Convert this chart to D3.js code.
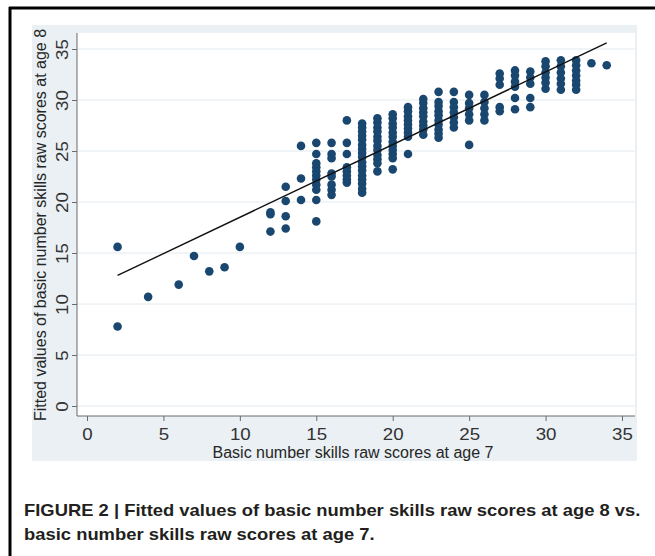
<!DOCTYPE html>
<html>
<head>
<meta charset="utf-8">
<script src="https://cdn.jsdelivr.net/npm/d3@7"></script>
<style>
  body { margin: 0; background: #ffffff; }
  text { font-family: "Liberation Sans", Arial, sans-serif; }
  .grid-line { stroke: #e4eaee; stroke-width: 1; }
  .axis-line { stroke: #6a6a6a; stroke-width: 1; }
  .tick line { stroke: #6a6a6a; }
  .tick text { fill: #333333; font-size: 16px; }
  .axis-title { fill: #262626; font-size: 16px; }
  .caption { fill: #231f20; font-size: 16px; font-weight: bold; }
</style>
</head>
<body>
<div id="wrapper"></div>
<script>

// raw score at age 7 (one entry per column of dots)
const age7Scores = [2, 4, 6, 7, 8, 9, 10, 12, 13, 14, 15, 16, 17, 18, 19, 20, 21, 22, 23, 24, 25, 26, 27, 28, 29, 30, 31, 32, 33, 34];

// fitted age 8 values found at each age 7 score
const age8Fitted = [
  [15.6, 7.8],
  [10.7],
  [11.9],
  [14.7],
  [13.2],
  [13.6],
  [15.6],
  [19.0, 18.8, 17.1],
  [21.5, 20.1, 18.6, 17.4],
  [25.5, 22.3, 20.2],
  [25.8, 24.7, 23.8, 23.4, 23.0, 22.6, 22.2, 21.7, 21.2, 20.2, 18.1],
  [25.8, 24.7, 24.3, 22.8, 22.5, 21.7, 21.2, 20.7],
  [28.0, 25.8, 24.7, 23.4, 23.0, 22.6, 22.2, 21.9],
  [27.7, 27.3, 26.9, 26.5, 26.1, 25.6, 25.2, 24.8, 24.4, 23.9, 23.5, 23.1, 22.6, 22.2, 21.8, 21.3, 20.9],
  [28.2, 27.8, 27.3, 26.9, 26.4, 26.0, 25.5, 25.1, 24.6, 24.2, 23.8, 23.0],
  [28.6, 28.2, 27.7, 27.3, 26.8, 26.4, 25.9, 25.5, 25.1, 24.7, 24.3, 23.2],
  [29.3, 28.9, 28.4, 28.0, 27.6, 27.2, 26.8, 26.4, 24.7],
  [30.1, 29.7, 29.2, 28.8, 28.4, 27.9, 27.5, 27.1, 26.6],
  [30.8, 29.8, 29.4, 28.9, 28.5, 28.0, 27.6, 27.1, 26.7, 26.3],
  [30.8, 29.8, 29.3, 28.8, 28.3, 27.8, 27.3],
  [30.5, 29.7, 29.2, 28.6, 28.0, 25.6],
  [30.5, 29.8, 29.2, 28.6, 28.0],
  [32.6, 32.1, 31.5, 29.3, 28.9],
  [32.9, 32.4, 31.8, 31.3, 30.2, 29.1],
  [32.8, 32.2, 31.6, 30.2, 29.3],
  [33.8, 33.3, 32.7, 32.2, 31.7, 31.1],
  [33.9, 33.3, 32.7, 32.1, 31.6, 31.0],
  [33.9, 33.4, 32.9, 32.4, 31.9, 31.5, 31.0],
  [33.6],
  [33.4],
];

// ends of the fitted regression line
const fitLineX = [2, 34];
const fitLineY = [12.8, 35.6];

const xTicks = [0, 5, 10, 15, 20, 25, 30, 35];
const yTicks = [0, 5, 10, 15, 20, 25, 30, 35];

const xTitle = "Basic number skills raw scores at age 7";
const yTitle = "Fitted values of basic number skills raw scores at age 8";
const captionLines = [
  "FIGURE 2 | Fitted values of basic number skills raw scores at age 8 vs.",
  "basic number skills raw scores at age 7.",
];

async function drawChart() {

  // 1. Access Data

  const dataset = age7Scores.flatMap((x, i) => age8Fitted[i].map(y => ({ x, y })));
  const xAccessor = d => d.x;
  const yAccessor = d => d.y;

  // 2. Create chart dimensions

  let dimensions = {
    width: 655,
    height: 556,
    graphRegion: { x: 32, y: 25, width: 605, height: 436 },
    plotRegion: { x: 77, y: 33, width: 558, height: 383 },
  };
  // the source figure was printed with wide glyphs, stretch text along its run
  const wideText = 1.17;

  // 3. Draw Canvas

  const wrapper = d3.select("#wrapper")
    .append("svg")
    .attr("width", dimensions.width)
    .attr("height", dimensions.height);

  // page frame (top and left rules only)
  wrapper.append("line")
    .attr("x1", 9).attr("x2", dimensions.width)
    .attr("y1", 8).attr("y2", 8)
    .attr("stroke", "#000").attr("stroke-width", 3);
  wrapper.append("line")
    .attr("x1", 10).attr("x2", 10)
    .attr("y1", 7).attr("y2", dimensions.height)
    .attr("stroke", "#000").attr("stroke-width", 3);

  const gr = dimensions.graphRegion;
  wrapper.append("rect")
    .attr("x", gr.x).attr("y", gr.y)
    .attr("width", gr.width).attr("height", gr.height)
    .attr("fill", "#eaf0f3");

  const pr = dimensions.plotRegion;
  wrapper.append("rect")
    .attr("x", pr.x).attr("y", pr.y)
    .attr("width", pr.width).attr("height", pr.height)
    .attr("fill", "#ffffff");

  // 4. Create Scales

  const xScale = d3.scaleLinear()
    .domain([0, 35])
    .range([87, 622]);

  const yScale = d3.scaleLinear()
    .domain([0, 35])
    .range([406, 49]);

  // 6. Draw Peripherals (grid first so dots sit on top)

  const peripherals = wrapper.append("g");

  peripherals.selectAll(".grid-line")
    .data(yTicks)
    .join("line")
    .attr("class", "grid-line")
    .attr("x1", pr.x + 1)
    .attr("x2", pr.x + pr.width)
    .attr("y1", d => yScale(d))
    .attr("y2", d => yScale(d));

  const xAxis = peripherals.append("g")
    .attr("transform", `translate(0, ${pr.y + pr.height})`)
    .call(d3.axisBottom(xScale).tickValues(xTicks).tickSize(5).tickSizeOuter(0));
  xAxis.select(".domain").remove();
  xAxis.selectAll(".tick text")
    .attr("y", 0)
    .attr("dy", null)
    .attr("transform", `translate(0, 24) scale(${wideText}, 1)`);

  const yAxis = peripherals.append("g")
    .attr("transform", `translate(${pr.x}, 0)`)
    .call(d3.axisLeft(yScale).tickValues(yTicks).tickSize(5).tickSizeOuter(0));
  yAxis.select(".domain").remove();
  yAxis.selectAll(".tick text")
    .attr("x", 0)
    .attr("dy", null)
    .attr("text-anchor", "middle")
    .attr("transform", `translate(-9, 0) rotate(-90) scale(${wideText}, 1)`);

  peripherals.selectAll("text").attr("font-family", null).attr("font-size", null);

  peripherals.append("line")
    .attr("class", "axis-line")
    .attr("x1", pr.x).attr("x2", pr.x)
    .attr("y1", pr.y).attr("y2", pr.y + pr.height);
  peripherals.append("line")
    .attr("class", "axis-line")
    .attr("x1", pr.x).attr("x2", pr.x + pr.width)
    .attr("y1", pr.y + pr.height).attr("y2", pr.y + pr.height);

  peripherals.append("text")
    .attr("class", "axis-title")
    .attr("x", 353)
    .attr("y", 458)
    .attr("text-anchor", "middle")
    .text(xTitle);

  peripherals.append("text")
    .attr("class", "axis-title")
    .attr("transform", "translate(46, 225) rotate(-90)")
    .attr("text-anchor", "middle")
    .text(yTitle);

  // 5. Draw Data

  const dots = wrapper.append("g");
  dots.selectAll("circle")
    .data(dataset)
    .join("circle")
    .attr("cx", d => xScale(xAccessor(d)))
    .attr("cy", d => yScale(yAccessor(d)))
    .attr("r", 4.3)
    .attr("fill", "#1a476f");

  const lineGenerator = d3.line()
    .x(d => xScale(d[0]))
    .y(d => yScale(d[1]));

  wrapper.append("path")
    .attr("d", lineGenerator(d3.zip(fitLineX, fitLineY)))
    .attr("fill", "none")
    .attr("stroke", "#111")
    .attr("stroke-width", 1.4);

  // caption under the figure
  wrapper.append("g")
    .selectAll("text")
    .data(captionLines)
    .join("text")
    .attr("class", "caption")
    .attr("transform", (d, i) => `translate(24, ${516 + i * 24}) scale(1.15, 1)`)
    .text(d => d);

}

drawChart();
</script>
</body>
</html>
